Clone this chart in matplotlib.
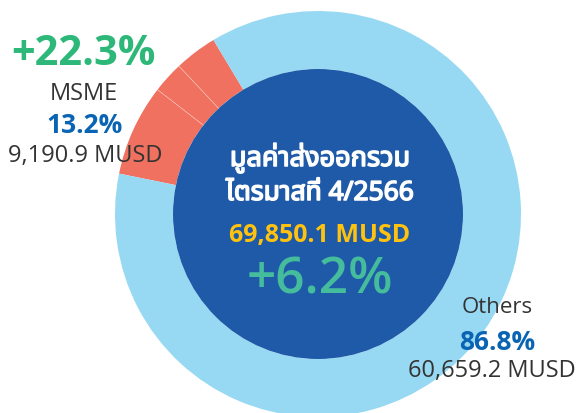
import matplotlib
matplotlib.use('Agg')
import numpy as np
import matplotlib.pyplot as plt
import matplotlib.patheffects as pe
from matplotlib import font_manager
from matplotlib.patches import Circle

# data
labels = ['MSME', 'Others']
shares = [13.2, 86.8]
msme_parts = [3.4, 2.5, 7.3]          # sub-slices inside the MSME block
values_musd = [9190.9, 60659.2]
total_musd = 69850.1
growth_msme = '+22.3%'
growth_total = '+6.2%'
center_title = ['มูลค่าส่งออกรวม', 'ไตรมาสที่ 4/2566']

# colours
c_others = '#97D9F2'
c_msme = '#F0715F'
c_hole = '#1F5AA8'
c_green = '#2DB87A'
c_teal = '#45BC9C'
c_blue = '#0A64B4'
c_yellow = '#FFC20E'
c_text = '#333333'

# fonts: a latin family that has a real bold face, and one with Thai glyphs
fl = font_manager.fontManager.ttflist
names = {f.name for f in fl}
bold_ok = {f.name for f in fl if f.weight in (600, 700, 'bold', 'semibold')}
latin = next((n for n in ['Noto Sans', 'Open Sans', 'Lato', 'Roboto', 'DejaVu Sans']
              if n in bold_ok), 'DejaVu Sans')
thai = [n for n in ['Noto Sans Thai', 'Noto Sans Thai UI', 'Noto Looped Thai', 'Sarabun', 'Kanit',
                    'Loma', 'Garuda', 'Norasi', 'Waree', 'Tlwg Typo', 'Kinnari', 'Laksaman']
        if n in names]
thai_family = thai[:1] + [latin, 'DejaVu Sans']

W, H = 576, 414
fig = plt.figure(figsize=(W / 100, H / 100), dpi=100)
ax = fig.add_axes([0, 0, 1, 1])

cx, cy = 318, H - 215
r_out, r_in = 203, 145

slices = msme_parts + [shares[1]]
colors = [c_msme] * len(msme_parts) + [c_others]
ax.pie(slices, colors=colors, startangle=121, counterclock=True, radius=r_out,
       center=(cx, cy), wedgeprops=dict(width=r_out - r_in, linewidth=0))

# thin separators between MSME sub-slices
ang = 121 + 360 * np.cumsum(slices) / np.sum(slices)
for a in ang[:len(msme_parts) - 1]:
    t = np.deg2rad(a)
    ax.plot([cx + r_in * np.cos(t), cx + r_out * np.cos(t)],
            [cy + r_in * np.sin(t), cy + r_out * np.sin(t)],
            color='white', lw=0.5, alpha=0.45)

ax.add_patch(Circle((cx, cy), r_in, color=c_hole, lw=0))

def txt(x, y, s, size, color, weight='normal', family=None, **kw):
    ax.text(x, H - y, s, fontsize=size, color=color, fontweight=weight,
            family=family or latin, ha='center', va='baseline', **kw)

# MSME side
txt(83, 65, growth_msme, 30, c_green, 'bold')
txt(84, 100, labels[0], 17, c_text)
txt(85, 133, f'{shares[0]}%', 19, c_blue, 'bold')
txt(85, 162, f'{values_musd[0]:,.1f} MUSD', 17, c_text)

# centre (thai face has no bold, thicken it with a stroke)
thick = [pe.withStroke(linewidth=1.1, foreground='white')]
txt(320, 167, center_title[0], 19.5, 'white', 'bold', thai_family, path_effects=thick)
txt(320, 201, center_title[1], 19, 'white', 'bold', thai_family, path_effects=thick)
txt(320, 242, f'{total_musd:,.1f} MUSD', 18, c_yellow, 'bold')
txt(320, 293, growth_total, 37, c_teal, 'semibold')

# Others side
txt(497, 313, labels[1], 16, c_text)
txt(497, 350, f'{shares[1]}%', 19, c_blue, 'bold')
txt(492, 377, f'{values_musd[1]:,.1f} MUSD', 17, c_text)

ax.set_xlim(0, W)
ax.set_ylim(0, H)
ax.set_aspect('equal')
ax.axis('off')

fig.savefig('out.png', dpi=100)
